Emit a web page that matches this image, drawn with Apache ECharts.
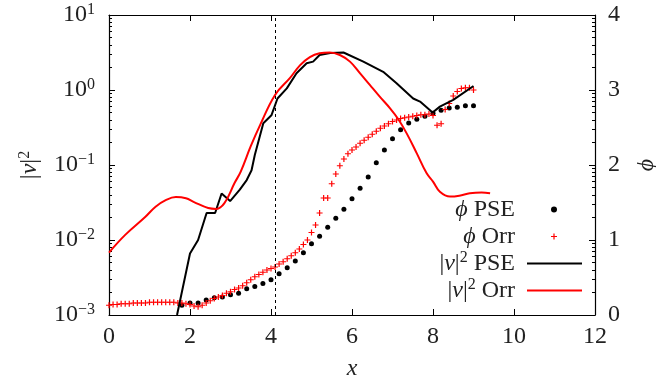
<!DOCTYPE html>
<html>
<head>
<meta charset="utf-8">
<script src="https://cdn.jsdelivr.net/npm/echarts@6/dist/echarts.min.js"></script>
<style>
  html, body { margin: 0; padding: 0; background: #fff; }
  #chart { width: 656px; height: 384px; }
</style>
</head>
<body>
<div id="chart"></div>
<script>
// |v|^2 PSE (black line)
const psePosX = [1.68, 2.0, 2.2, 2.41, 2.62, 2.78, 2.99, 3.23, 3.4, 3.52, 3.6, 3.81, 4.01, 4.16, 4.39, 4.63, 4.88, 5.04, 5.2, 5.46, 5.79, 6.28, 6.77, 7.1, 7.51, 7.68, 7.99, 8.17, 8.5, 9.0];
const pseEnergy = [0.001, 0.0066, 0.01, 0.0229, 0.0229, 0.0417, 0.033, 0.047, 0.063, 0.085, 0.136, 0.36, 0.46, 0.77, 1.05, 1.67, 2.27, 2.39, 2.93, 3.12, 3.16, 2.39, 1.75, 1.23, 0.77, 0.70, 0.50, 0.60, 0.74, 1.13];

// |v|^2 Orr (red line)
const orrPosX = [0, 0.4, 0.9, 1.15, 1.4, 1.65, 1.9, 2.1, 2.45, 2.65, 2.85, 3.1, 3.25, 3.5, 3.73, 4.1, 4.47, 4.72, 4.96, 5.2, 5.45, 5.7, 5.95, 6.2, 6.44, 6.69, 6.94, 7.14, 7.35, 7.6, 7.84, 8.0, 8.17, 8.42, 8.65, 8.91, 9.2, 9.41];
const orrEnergy = [0.0068, 0.0117, 0.0204, 0.0278, 0.034, 0.0374, 0.036, 0.032, 0.0267, 0.026, 0.031, 0.0575, 0.081, 0.178, 0.34, 0.86, 1.45, 2.15, 2.75, 3.09, 3.17, 2.93, 2.39, 1.67, 1.17, 0.81, 0.57, 0.41, 0.264, 0.143, 0.078, 0.06, 0.044, 0.038, 0.039, 0.042, 0.043, 0.042];

// phi PSE (black dots), right axis
const phiPseX = [1.8, 2.0, 2.2, 2.4, 2.6, 2.8, 3.0, 3.2, 3.4, 3.6, 3.8, 4.0, 4.2, 4.4, 4.6, 4.8, 5.0, 5.2, 5.4, 5.6, 5.8, 6.0, 6.2, 6.4, 6.6, 6.8, 7.0, 7.2, 7.4, 7.6, 7.8, 8.0, 8.2, 8.4, 8.6, 8.8, 9.0];
const phiPse = [0.13, 0.16, 0.16, 0.2, 0.23, 0.24, 0.27, 0.29, 0.35, 0.38, 0.42, 0.47, 0.55, 0.63, 0.72, 0.83, 0.95, 1.05, 1.17, 1.29, 1.41, 1.55, 1.69, 1.84, 2.03, 2.2, 2.35, 2.47, 2.56, 2.61, 2.65, 2.69, 2.73, 2.76, 2.77, 2.79, 2.79];

// phi Orr (red crosses), right axis
const phiOrrX = [0.0, 0.1, 0.2, 0.3, 0.4, 0.5, 0.6, 0.7, 0.8, 0.9,
  1.0, 1.1, 1.2, 1.3, 1.4, 1.5, 1.6, 1.7, 1.8, 1.9,
  2.0, 2.1, 2.2, 2.3, 2.4, 2.5, 2.6, 2.7, 2.8, 2.9,
  3.0, 3.1, 3.2, 3.3, 3.4, 3.5, 3.6, 3.7, 3.8, 3.9,
  4.0, 4.1, 4.2, 4.3, 4.4, 4.5, 4.6, 4.7, 4.8, 4.9,
  5.0, 5.1, 5.2, 5.3, 5.4, 5.5, 5.6, 5.7, 5.8, 5.9,
  6.0, 6.1, 6.2, 6.3, 6.4, 6.5, 6.6, 6.7, 6.8, 6.9,
  7.0, 7.1, 7.2, 7.3, 7.4, 7.5, 7.6, 7.7, 7.8, 7.9,
  8.0, 8.1, 8.2, 8.3, 8.4, 8.5, 8.6, 8.7, 8.8, 8.9, 9.0];
const phiOrr = [0.13, 0.14, 0.14, 0.15, 0.15, 0.15, 0.16, 0.16, 0.16, 0.16,
  0.17, 0.17, 0.17, 0.17, 0.17, 0.17, 0.17, 0.16, 0.16, 0.15,
  0.14, 0.12, 0.11, 0.13, 0.16, 0.19, 0.22, 0.24, 0.26, 0.29,
  0.31, 0.34, 0.36, 0.39, 0.43, 0.47, 0.51, 0.54, 0.57, 0.6,
  0.62, 0.64, 0.68, 0.71, 0.75, 0.79, 0.83, 0.88, 0.94, 1.0,
  1.1, 1.2, 1.36, 1.56, 1.56, 1.75, 1.88, 1.99, 2.08, 2.15,
  2.2, 2.24, 2.29, 2.33, 2.37, 2.41, 2.45, 2.49, 2.52, 2.55,
  2.58, 2.6, 2.62, 2.63, 2.64, 2.65, 2.66, 2.67, 2.67, 2.68,
  2.66, 2.53, 2.55, 2.74, 2.82, 2.92, 2.98, 3.02, 3.03, 3.03, 3.0];

const markerX = 4.1;
const minorLogTicks = [0.002, 0.003, 0.004, 0.005, 0.006, 0.007, 0.008, 0.009,
  0.02, 0.03, 0.04, 0.05, 0.06, 0.07, 0.08, 0.09,
  0.2, 0.3, 0.4, 0.5, 0.6, 0.7, 0.8, 0.9,
  2, 3, 4, 5, 6, 7, 8, 9];

const zip = (xs, ys) => xs.map((x, i) => [x, ys[i]]);

const FONT = 'Liberation Serif';
const INK = '#222';
const rich = {
  it: { fontFamily: FONT, fontSize: 24, fontStyle: 'italic', color: INK },
  sup: { fontFamily: FONT, fontSize: 16, color: INK, verticalAlign: 'top', padding: [0, 0, 10, 0] },
  n: { fontFamily: FONT, fontSize: 24, color: INK },
  g: { width: 7 },
  g2: { width: 31 }
};
const legendLabels = {
  phiPSE: '{it|ϕ}{n| PSE}{g2|}',
  phiOrr: '{it|ϕ}{n| Orr}{g2|}',
  vPSE: '{n||}{it|v}{n||}{sup|2}{n| PSE}{g|}',
  vOrr: '{n||}{it|v}{n||}{sup|2}{n| Orr}{g|}'
};

const plusPath = 'path://M4,0H6V4H10V6H6V10H4V6H0V4H4Z';

const chart = echarts.init(document.getElementById('chart'));
chart.setOption({
  animation: false,
  grid: { left: 109, right: 61, top: 15, bottom: 69, outerBoundsMode: 'none', containLabel: false },
  legend: [
    {
      data: ['phiPSE', 'phiOrr'],
      orient: 'vertical', align: 'right', right: 99, top: 196,
      itemWidth: 6, itemHeight: 6, itemGap: 0, padding: 0,
      formatter: n => legendLabels[n],
      textStyle: { fontFamily: FONT, fontSize: 24, lineHeight: 27, color: INK, rich: rich }
    },
    {
      data: [{ name: 'vPSE', icon: 'rect' }, { name: 'vOrr', icon: 'rect' }],
      orient: 'vertical', align: 'right', right: 74, top: 250,
      itemWidth: 55, itemHeight: 2, itemGap: 0, padding: 0, symbolKeepAspect: false,
      formatter: n => legendLabels[n],
      textStyle: { fontFamily: FONT, fontSize: 24, lineHeight: 27, color: INK, rich: rich }
    }
  ],
  xAxis: [
    {
      type: 'value', min: 0, max: 12, interval: 2, position: 'bottom',
      axisLine: { lineStyle: { color: '#000', width: 1.2 } },
      axisTick: { inside: true, length: 6, lineStyle: { color: '#000' } },
      axisLabel: { margin: 10, fontFamily: FONT, fontSize: 24, color: INK },
      splitLine: { show: false },
      name: 'x', nameLocation: 'middle', nameGap: 42,
      nameTextStyle: { fontFamily: FONT, fontSize: 24, fontStyle: 'italic', color: INK }
    },
    {
      type: 'value', min: 0, max: 12, interval: 2, position: 'top',
      axisLine: { lineStyle: { color: '#000', width: 1.2 } },
      axisTick: { inside: true, length: 6, lineStyle: { color: '#000' } },
      axisLabel: { show: false },
      splitLine: { show: false }
    }
  ],
  yAxis: [
    {
      type: 'log', logBase: 10, min: 0.001, max: 10, position: 'left',
      axisLine: { show: true, lineStyle: { color: '#000', width: 1.2 } },
      axisTick: { show: true, inside: true, length: 6, lineStyle: { color: '#000' } },
      axisLabel: {
        margin: 14, fontFamily: FONT, fontSize: 24, color: INK,
        formatter: v => {
          const e = Math.round(Math.log10(v));
          return '{n|10}{sup|' + (e < 0 ? '−' + (-e) : e) + '}';
        },
        rich: rich
      },
      splitLine: { show: false },
      name: '{n||}{it|v}{n||}{sup|2}', nameLocation: 'middle', nameGap: 66, nameRotate: 90,
      nameTextStyle: { rich: rich }
    },
    {
      type: 'log', logBase: 10, min: 0.001, max: 10, position: 'left',
      axisLine: { show: false },
      axisTick: { show: true, inside: true, length: 3, customValues: minorLogTicks, lineStyle: { color: '#000' } },
      axisLabel: { show: false },
      splitLine: { show: false }
    },
    {
      type: 'value', min: 0, max: 4, interval: 1, position: 'right',
      axisLine: { show: true, lineStyle: { color: '#000', width: 1.2 } },
      axisTick: { show: false },
      axisLabel: { margin: 13, fontFamily: FONT, fontSize: 24, color: INK },
      splitLine: { show: false },
      name: 'ϕ', nameLocation: 'middle', nameGap: 40, nameRotate: 90,
      nameTextStyle: { fontFamily: FONT, fontSize: 24, fontStyle: 'italic', color: INK }
    },
    {
      type: 'log', logBase: 10, min: 0.001, max: 10, position: 'right',
      axisLine: { show: false },
      axisTick: { show: true, inside: true, length: 6, lineStyle: { color: '#000' } },
      axisLabel: { show: false },
      splitLine: { show: false }
    },
    {
      type: 'log', logBase: 10, min: 0.001, max: 10, position: 'right',
      axisLine: { show: false },
      axisTick: { show: true, inside: true, length: 3, customValues: minorLogTicks, lineStyle: { color: '#000' } },
      axisLabel: { show: false },
      splitLine: { show: false }
    }
  ],
  series: [
    {
      name: 'phiPSE', type: 'scatter', yAxisIndex: 2,
      data: zip(phiPseX, phiPse),
      symbol: 'circle', symbolSize: 5,
      itemStyle: { color: '#000', opacity: 1 }
    },
    {
      name: 'phiOrr', type: 'scatter', yAxisIndex: 2,
      data: zip(phiOrrX, phiOrr),
      symbol: plusPath, symbolSize: 6,
      itemStyle: { color: '#ff0000', opacity: 1 }
    },
    {
      name: 'vPSE', type: 'line', yAxisIndex: 0,
      data: zip(psePosX, pseEnergy),
      symbol: 'none', clip: true,
      lineStyle: { color: '#000', width: 2 },
      itemStyle: { color: '#000' }
    },
    {
      name: 'vOrr', type: 'line', yAxisIndex: 0,
      data: zip(orrPosX, orrEnergy),
      symbol: 'none', smooth: 0.4, clip: true,
      lineStyle: { color: '#ff0000', width: 2 },
      itemStyle: { color: '#ff0000' },
      markLine: {
        silent: true, symbol: 'none', animation: false,
        label: { show: false },
        lineStyle: { color: '#000', width: 1, type: [3, 3] },
        data: [{ xAxis: markerX }]
      }
    }
  ]
});
</script>
</body>
</html>
